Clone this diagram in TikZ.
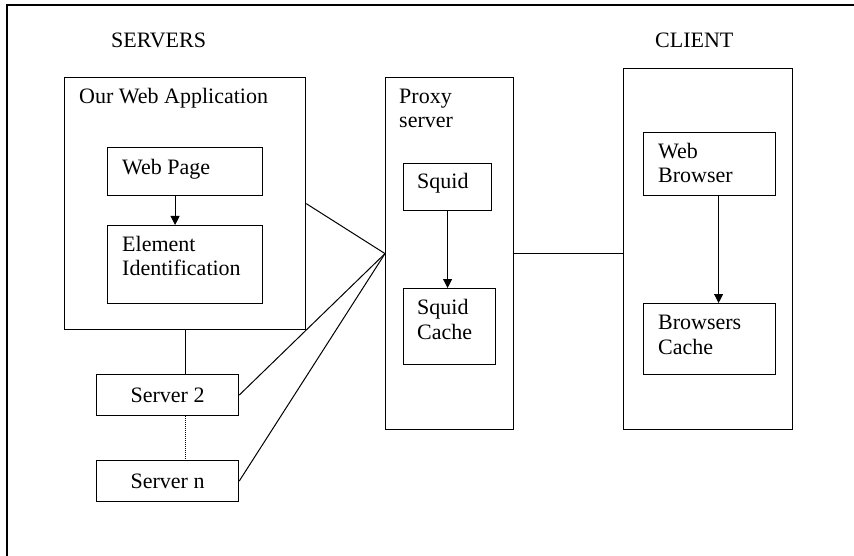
\documentclass[tikz,border=0pt]{standalone}
\usepackage{fontspec}
\setmainfont{Liberation Serif}
\usetikzlibrary{arrows.meta,calc,positioning}
\begin{document}
\begin{tikzpicture}
	[
	x=1pt, y=-1pt,
	every node/.style={font=\fontsize{22}{24.5}\selectfont},
	> = {Triangle[length=9pt,width=9pt]},
	box/.style = {draw, line width=1.2pt, inner sep=0pt, anchor=north west},
	lbl/.style = {anchor=base west, inner sep=0pt, align=left},
	link/.style = {line width=1pt}
	]
	\useasboundingbox (0,0) rectangle (854,556);
	\draw[line width=1.2pt] (7,556) to (7,5) to (854,5);

	\node[lbl] (serverslbl) at (111,48) {SERVERS};
	\node[lbl] (clientlbl) at (655,48) {CLIENT};

	\node[box, minimum width=241pt, minimum height=252pt] (webapp) at (64,77) {};
	\node[box, minimum width=155pt, minimum height=48pt] (webpage) at (107,147) {};
	\node[box, minimum width=155pt, minimum height=78pt] (element) at (107,225) {};
	\node[box, minimum width=142pt, minimum height=41pt] (server2) at (96,374) {Server 2};
	\node[box, minimum width=142pt, minimum height=41pt] (servern) at (96,460) {Server n};
	\node[box, minimum width=128pt, minimum height=352pt] (proxy) at (385,77) {};
	\node[box, minimum width=88pt, minimum height=47pt] (squid) at (403,163) {};
	\node[box, minimum width=92pt, minimum height=76pt] (squidcache) at (403,288) {};
	\node[box, minimum width=169pt, minimum height=361pt] (client) at (623,68) {};
	\node[box, minimum width=132pt, minimum height=63pt] (browser) at (643,132) {};
	\node[box, minimum width=132pt, minimum height=71pt] (browsercache) at (643,303) {};

	\node[lbl] (webapplbl) at ([shift={(15,27)}]webapp.north west) {Our Web Application};
	\node[lbl] (webpagelbl) at ([shift={(15,28)}]webpage.north west) {Web Page};
	\node[lbl] (elementlbl) at ([shift={(15,51)}]element.north west) {Element\\Identification};
	\node[lbl] (proxylbl) at ([shift={(14,51)}]proxy.north west) {Proxy\\server};
	\node[lbl] (squidlbl) at ([shift={(14,26)}]squid.north west) {Squid};
	\node[lbl] (squidcachelbl) at ([shift={(14,51)}]squidcache.north west) {Squid\\Cache};
	\node[lbl] (browserlbl) at ([shift={(15,51)}]browser.north west) {Web\\Browser};
	\node[lbl] (browsercachelbl) at ([shift={(15,51)}]browsercache.north west) {Browsers\\Cache};

	\draw[link] (webapp.east) to (proxy.west);
	\draw[link] (server2.east) to (proxy.west);
	\draw[link] (servern.east) to (proxy.west);
	\draw[link] (proxy.east) to (proxy.east -| client.west);
	\draw[link] (webapp.south) to (webapp.south |- server2.north);
	\draw[link, densely dotted] (webapp.south |- server2.south) to (webapp.south |- servern.north);

	\draw[link,->] ([xshift=-10pt]webpage.south) to ([xshift=-10pt]webpage.south |- element.north);
	\draw[link,->] (squid.south) to (squid.south |- squidcache.north);
	\draw[link,->] ([xshift=9pt]browser.south) to ([xshift=9pt]browser.south |- browsercache.north);
\end{tikzpicture}
\end{document}
